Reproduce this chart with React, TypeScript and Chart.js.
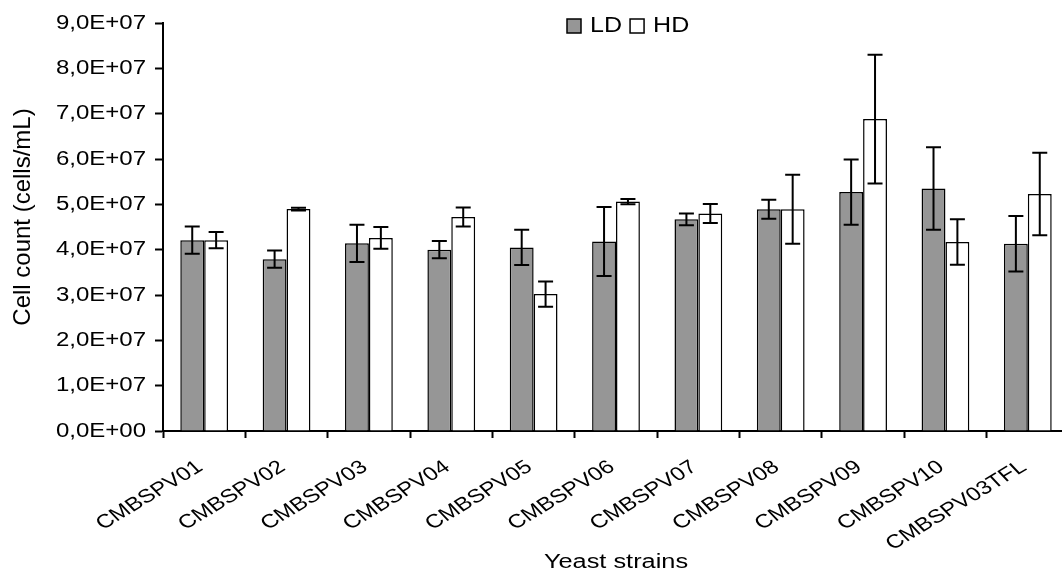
import React, { useEffect, useRef } from "react";
import { Chart, registerables } from "chart.js";

Chart.register(...registerables);

const categories = [
  "CMBSPV01", "CMBSPV02", "CMBSPV03", "CMBSPV04", "CMBSPV05", "CMBSPV06",
  "CMBSPV07", "CMBSPV08", "CMBSPV09", "CMBSPV10", "CMBSPV03TFL",
];
const ldMean = [4.21e7, 3.79e7, 4.14e7, 4.0e7, 4.05e7, 4.18e7, 4.67e7, 4.89e7, 5.27e7, 5.35e7, 4.13e7];
const ldErr = [0.30e7, 0.19e7, 0.41e7, 0.19e7, 0.39e7, 0.76e7, 0.13e7, 0.21e7, 0.72e7, 0.91e7, 0.61e7];
const hdMean = [4.21e7, 4.895e7, 4.26e7, 4.72e7, 3.02e7, 5.06e7, 4.8e7, 4.89e7, 6.88e7, 4.17e7, 5.23e7];
const hdErr = [0.18e7, 0.03e7, 0.24e7, 0.21e7, 0.28e7, 0.06e7, 0.21e7, 0.76e7, 1.42e7, 0.5e7, 0.91e7];
const seriesNames = ["LD", "HD"];
const xTitle = "Yeast strains";
const yTitle = "Cell count (cells/mL)";
const yMax = 9e7;
const yStep = 1e7;

const FONT = "'Liberation Sans', Arial, sans-serif";

function fmtSci(v: number): string {
  if (v === 0) return "0,0E+00";
  const exp = Math.floor(Math.log10(Math.abs(v)) + 1e-9);
  const mant = v / Math.pow(10, exp);
  return mant.toFixed(1).replace(".", ",") + "E+" + String(exp).padStart(2, "0");
}

const errorBarPlugin = {
  id: "errorBars",
  afterDatasetsDraw(chart: any) {
    const ctx = chart.ctx;
    const y = chart.scales.y;
    const errs = [ldErr, hdErr];
    const means = [ldMean, hdMean];
    ctx.save();
    ctx.strokeStyle = "#000";
    ctx.lineWidth = 2;
    chart.data.datasets.forEach((ds: any, di: number) => {
      const meta = chart.getDatasetMeta(di);
      meta.data.forEach((bar: any, i: number) => {
        const x = bar.x;
        const top = y.getPixelForValue(means[di][i] + errs[di][i]);
        const bot = y.getPixelForValue(means[di][i] - errs[di][i]);
        const cap = 7.5;
        ctx.beginPath();
        ctx.moveTo(x, top);
        ctx.lineTo(x, bot);
        ctx.moveTo(x - cap, top);
        ctx.lineTo(x + cap, top);
        ctx.moveTo(x - cap, bot);
        ctx.lineTo(x + cap, bot);
        ctx.stroke();
      });
    });
    ctx.restore();
  },
};

// Text drawn with a horizontal stretch, like the reference picture.
const textPlugin = {
  id: "stretchedText",
  afterDraw(chart: any) {
    const ctx = chart.ctx;
    const xs = chart.scales.x;
    const ys = chart.scales.y;
    const area = chart.chartArea;
    ctx.save();
    ctx.fillStyle = "#000";

    // y tick labels
    ctx.font = `20px ${FONT}`;
    ctx.textAlign = "right";
    ctx.textBaseline = "middle";
    ys.ticks.forEach((t: any) => {
      const py = ys.getPixelForValue(t.value);
      ctx.save();
      ctx.translate(area.left - 17, py);
      ctx.scale(1.2, 1);
      ctx.fillText(fmtSci(t.value), 0, 0);
      ctx.restore();
    });

    // x tick labels (rotated, stretched)
    ctx.font = `19px ${FONT}`;
    ctx.textAlign = "right";
    ctx.textBaseline = "middle";
    categories.forEach((lab, i) => {
      const px = xs.getPixelForValue(i);
      ctx.save();
      ctx.translate(px - 4, area.bottom + 34);
      ctx.scale(1.25, 1);
      ctx.rotate((-37 * Math.PI) / 180);
      ctx.fillText(lab, 0, 0);
      ctx.restore();
    });

    // x title
    ctx.font = `19.5px ${FONT}`;
    ctx.textAlign = "center";
    ctx.textBaseline = "alphabetic";
    ctx.save();
    ctx.translate((area.left + area.right) / 2, 568);
    ctx.scale(1.3, 1);
    ctx.fillText(xTitle, 0, 0);
    ctx.restore();

    // y title
    ctx.font = `24px ${FONT}`;
    ctx.textAlign = "center";
    ctx.textBaseline = "middle";
    ctx.save();
    ctx.translate(23, 217);
    ctx.rotate(-Math.PI / 2);
    ctx.fillText(yTitle, 0, 0);
    ctx.restore();

    // legend
    const ds = chart.data.datasets;
    ctx.font = `22px ${FONT}`;
    ctx.textAlign = "left";
    ctx.textBaseline = "alphabetic";
    let x = 567;
    ds.forEach((d: any, i: number) => {
      ctx.fillStyle = d.backgroundColor;
      ctx.fillRect(x, 19, 14, 14);
      ctx.strokeStyle = "#000";
      ctx.lineWidth = 1.5;
      ctx.strokeRect(x, 19, 14, 14);
      ctx.fillStyle = "#000";
      ctx.save();
      ctx.translate(x + 23, 32);
      ctx.scale(1.14, 1);
      ctx.fillText(seriesNames[i], 0, 0);
      const w = ctx.measureText(seriesNames[i]).width * 1.14;
      ctx.restore();
      x += 23 + w + 8;
    });
    ctx.restore();
  },
};

export default function App() {
  const ref = useRef<HTMLCanvasElement | null>(null);
  useEffect(() => {
    document.body.style.margin = "0";
    document.body.style.overflow = "hidden";
    const c = ref.current;
    if (!c) return;
    const chart = new Chart(c, {
      type: "bar",
      data: {
        labels: categories,
        datasets: [
          {
            label: seriesNames[0],
            data: ldMean,
            backgroundColor: "#969696",
            borderColor: "#000",
            borderWidth: 1.5,
            categoryPercentage: 0.58,
            barPercentage: 1,
          },
          {
            label: seriesNames[1],
            data: hdMean,
            backgroundColor: "#ffffff",
            borderColor: "#000",
            borderWidth: 1.5,
            categoryPercentage: 0.58,
            barPercentage: 1,
          },
        ],
      },
      options: {
        responsive: false,
        animation: false,
        layout: { padding: { top: 23, right: 11, left: 0, bottom: 0 } },
        plugins: { legend: { display: false }, tooltip: { enabled: false } },
        scales: {
          x: {
            afterFit: (s: any) => { s.height = 145; },
            grid: {
              display: true,
              offset: true,
              drawOnChartArea: false,
              drawTicks: true,
              tickLength: 7,
              tickColor: "#000",
              tickWidth: 2,
            },
            border: { display: true, color: "#000", width: 2 },
            ticks: { display: false, autoSkip: false },
            title: { display: false },
          },
          y: {
            min: 0,
            max: yMax,
            afterFit: (s: any) => { s.width = 163; },
            grid: {
              display: true,
              drawOnChartArea: false,
              drawTicks: true,
              tickLength: 8,
              tickColor: "#000",
              tickWidth: 2,
            },
            border: { display: true, color: "#000", width: 2 },
            ticks: { display: false, stepSize: yStep },
            title: { display: false },
          },
        },
      },
      plugins: [errorBarPlugin, textPlugin],
    });
    return () => chart.destroy();
  }, []);
  return (
    <div style={{ width: 1062, height: 576, overflow: "hidden", background: "#fff" }}>
      <canvas ref={ref} width={1080} height={576} style={{ display: "block" }} />
    </div>
  );
}
